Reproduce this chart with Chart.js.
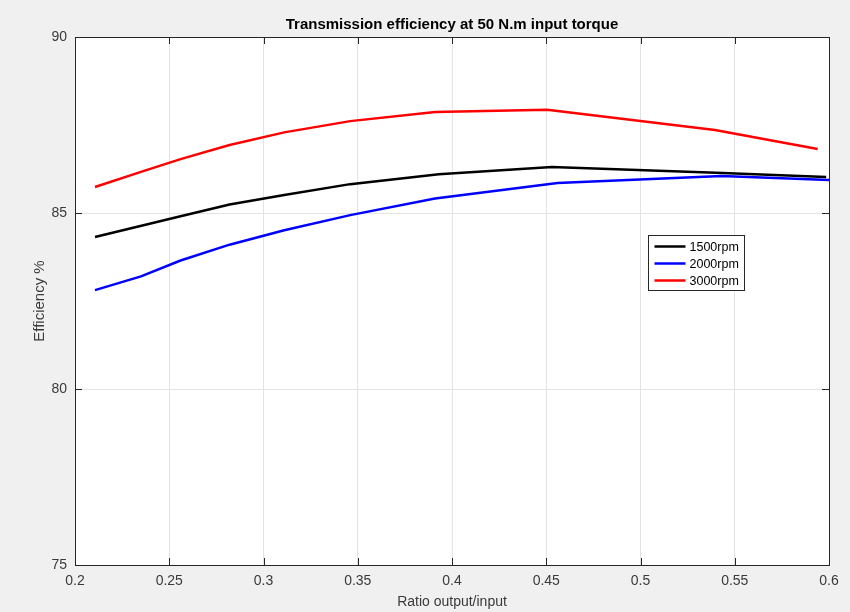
<!DOCTYPE html>
<html>
<head>
<meta charset="utf-8">
<script src="https://cdn.jsdelivr.net/npm/chart.js@4.4.1/dist/chart.umd.min.js"></script>
<style>
  html, body { margin: 0; padding: 0; background: #f0f0f0; }
  #wrap { width: 850px; height: 612px; }
</style>
</head>
<body>
<div id="wrap"><canvas id="chart" width="850" height="612"></canvas></div>
<script>
// Data
const seriesLabels = ["1500rpm", "2000rpm", "3000rpm"];
const seriesColors = ["#000000", "#0000ff", "#ff0000"];

const ratio1500 = [0.2106, 0.256, 0.282, 0.311, 0.346, 0.393, 0.453, 0.540, 0.5985];
const eff1500 = [84.32, 84.91, 85.24, 85.51, 85.82, 86.10, 86.31, 86.14, 86.02];

const ratio2000 = [0.2106, 0.235, 0.256, 0.282, 0.311, 0.346, 0.391, 0.456, 0.543, 0.600];
const eff2000 = [82.81, 83.20, 83.65, 84.10, 84.51, 84.94, 85.41, 85.85, 86.05, 85.94];

const ratio3000 = [0.2106, 0.235, 0.256, 0.282, 0.311, 0.346, 0.391, 0.4505, 0.5395, 0.594];
const eff3000 = [85.74, 86.17, 86.53, 86.93, 87.29, 87.61, 87.87, 87.93, 87.36, 86.82];

const xMin = 0.2, xMax = 0.6, xStep = 0.05;
const yMin = 75, yMax = 90, yStep = 5;

const FONT = "'Liberation Sans', Arial, Helvetica, sans-serif";
const AXIS_COLOR = "#262626";
const TICK_TEXT = "#3a3a3a";
const GRID_COLOR = "#e3e3e3";

function toPoints(xs, ys) {
  return xs.map((x, i) => ({ x: x, y: ys[i] }));
}

function fmtTick(v) {
  return String(Number(Number(v).toFixed(2)));
}

/** MATLAB-looking frame: grey figure, white axes, inward ticks, box, legend */
const matlabFrame = {
  id: "matlabFrame",
  beforeDraw(chart) {
    const { ctx, chartArea: a } = chart;
    ctx.save();
    ctx.fillStyle = "#f0f0f0";
    ctx.fillRect(0, 0, chart.width, chart.height);
    ctx.fillStyle = "#ffffff";
    ctx.fillRect(a.left, a.top, a.right - a.left, a.bottom - a.top);
    ctx.restore();
  },
  afterDraw(chart) {
    const { ctx, chartArea: a, scales } = chart;
    const tick = 7;
    ctx.save();
    ctx.strokeStyle = AXIS_COLOR;
    ctx.lineWidth = 1;
    ctx.beginPath();
    scales.x.ticks.forEach((t) => {
      const px = Math.round(scales.x.getPixelForValue(t.value)) + 0.5;
      ctx.moveTo(px, a.bottom); ctx.lineTo(px, a.bottom - tick);
      ctx.moveTo(px, a.top); ctx.lineTo(px, a.top + tick);
    });
    scales.y.ticks.forEach((t) => {
      const py = Math.round(scales.y.getPixelForValue(t.value)) + 0.5;
      ctx.moveTo(a.left, py); ctx.lineTo(a.left + tick, py);
      ctx.moveTo(a.right, py); ctx.lineTo(a.right - tick, py);
    });
    ctx.stroke();
    ctx.strokeRect(Math.round(a.left) + 0.5, Math.round(a.top) + 0.5,
      Math.round(a.right - a.left), Math.round(a.bottom - a.top));

    // legend box inside the axes
    const w = a.right - a.left, h = a.bottom - a.top;
    const lx = Math.round(a.left + w * 0.760) + 0.5;
    const ly = Math.round(a.top + h * 0.375) + 0.5;
    const lw = 96, lh = 55;
    ctx.fillStyle = "#ffffff";
    ctx.fillRect(lx, ly, lw, lh);
    ctx.strokeStyle = "#262626";
    ctx.strokeRect(lx, ly, lw, lh);
    ctx.font = "12.5px " + FONT;
    ctx.textBaseline = "middle";
    chart.data.datasets.forEach((ds, i) => {
      const yy = ly + 11 + i * 17;
      ctx.strokeStyle = ds.borderColor;
      ctx.lineWidth = 2.5;
      ctx.beginPath();
      ctx.moveTo(lx + 6, yy); ctx.lineTo(lx + 37, yy);
      ctx.stroke();
      ctx.fillStyle = "#000000";
      ctx.fillText(ds.label, lx + 41, yy + 1);
    });
    ctx.restore();
  },
};

const datasets = [
  { label: seriesLabels[0], data: toPoints(ratio1500, eff1500), borderColor: seriesColors[0] },
  { label: seriesLabels[1], data: toPoints(ratio2000, eff2000), borderColor: seriesColors[1] },
  { label: seriesLabels[2], data: toPoints(ratio3000, eff3000), borderColor: seriesColors[2] },
].map((d) => ({ ...d, borderWidth: 2.5, pointRadius: 0, tension: 0, fill: false }));

new Chart(document.getElementById("chart"), {
  type: "line",
  data: { datasets },
  plugins: [matlabFrame],
  options: {
    responsive: false,
    animation: false,
    layout: { padding: { left: 0, right: 21, top: 0, bottom: 0 } },
    plugins: {
      legend: { display: false },
      tooltip: { enabled: false },
      title: {
        display: true,
        fullSize: false,
        text: "Transmission efficiency at 50 N.m input torque",
        color: "#000000",
        font: { family: FONT, size: 15, weight: "bold" },
        padding: { top: 16, bottom: 3 },
      },
    },
    scales: {
      x: {
        type: "linear",
        min: xMin,
        max: xMax,
        afterFit: (s) => { s.height = 47; },
        grid: { color: GRID_COLOR, drawTicks: false },
        border: { display: false },
        ticks: {
          stepSize: xStep,
          padding: 8,
          color: TICK_TEXT,
          font: { family: FONT, size: 14 },
          maxRotation: 0,
          callback: fmtTick,
        },
        title: {
          display: true,
          text: "Ratio output/input",
          color: TICK_TEXT,
          font: { family: FONT, size: 14 },
          padding: { top: 0, bottom: 1 },
        },
      },
      y: {
        type: "linear",
        min: yMin,
        max: yMax,
        afterFit: (s) => { s.width = 75; },
        grid: { color: GRID_COLOR, drawTicks: false },
        border: { display: false },
        ticks: {
          stepSize: yStep,
          padding: 8,
          color: TICK_TEXT,
          font: { family: FONT, size: 14 },
          callback: fmtTick,
        },
        title: {
          display: true,
          text: "Efficiency %",
          color: TICK_TEXT,
          font: { family: FONT, size: 15 },
          padding: { top: 31, bottom: 0 },
        },
      },
    },
  },
});
</script>
</body>
</html>
